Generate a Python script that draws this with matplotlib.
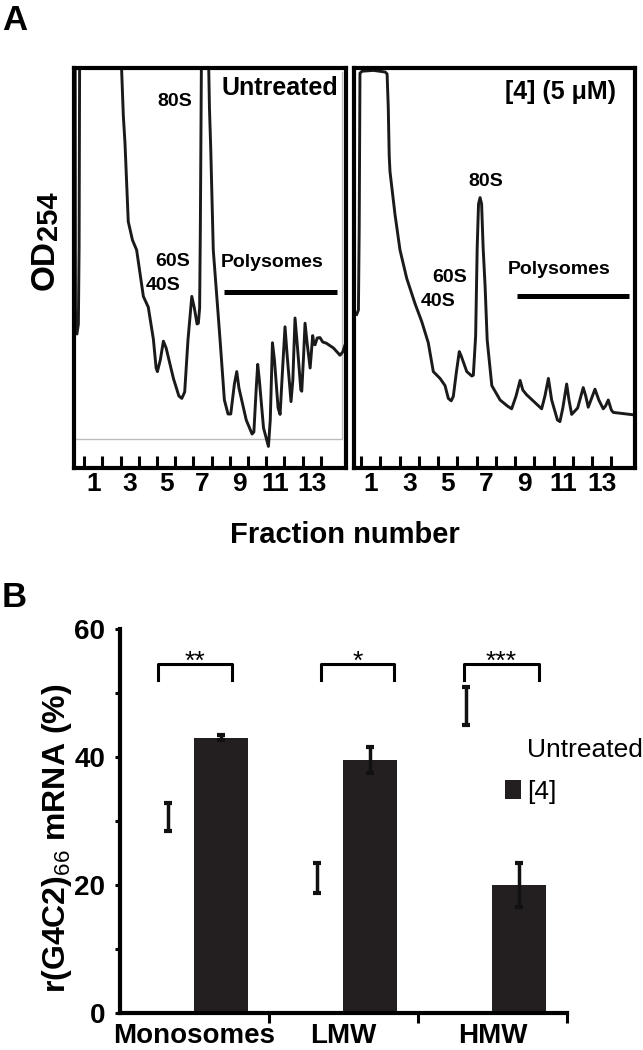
import numpy as np
import matplotlib
matplotlib.use("Agg")
import matplotlib.pyplot as plt
from matplotlib.patches import Patch

plt.rcParams['font.family'] = ['Liberation Sans', 'DejaVu Sans']
plt.rcParams['mathtext.fontset'] = 'custom'
plt.rcParams['mathtext.rm'] = 'Liberation Sans'
plt.rcParams['mathtext.bf'] = 'Liberation Sans:bold'

# --- panel A: OD254 profiles (fraction number, relative OD 0-100) ---
untreated_frac = [0.00, 0.02, 0.05, 0.10, 0.18, 0.22, 0.26, 2.52, 2.56, 2.65, 2.74, 2.92,
                  3.15, 3.38, 3.75, 4.02, 4.30, 4.45, 4.52, 4.68, 4.85, 5.00, 5.40, 5.70,
                  5.86, 6.02, 6.20, 6.41, 6.55, 6.70, 6.77, 6.84, 6.88, 6.95, 7.30, 7.38,
                  7.45, 7.59, 7.96, 8.20, 8.40, 8.55, 8.75, 8.88, 9.00, 9.40, 9.72, 9.82,
                  9.95, 10.03, 10.12, 10.35, 10.62, 10.72, 10.84, 10.95, 11.15, 11.26, 11.40,
                  11.53, 11.65, 11.86, 11.96, 12.08, 12.20, 12.40, 12.45, 12.55, 12.63, 12.75,
                  12.91, 12.98, 13.05, 13.12, 13.18, 13.30, 13.45, 13.60, 13.80, 14.19, 14.55,
                  14.70, 14.83]
untreated_od = [120, 40, 34, 33.5, 36, 55, 120, 120, 99, 88, 81.3, 61.6,
                57, 54.5, 42.9, 40.2, 32.2, 25, 24.1, 27, 31.7, 30, 22.4, 18,
                17.4, 19, 32, 42.9, 40, 36, 36.2, 40, 60, 110, 110, 90,
                80, 54.5, 32.2, 17, 13.5, 13.5, 21, 24.1, 20, 12, 8.5, 9,
                20, 25.9, 22, 10, 5.4, 12, 31.3, 27, 15, 13.4, 25,
                35.3, 28, 16.6, 22, 37.5, 31, 19.5, 19.2, 28, 36.2, 31,
                25, 29, 33.1, 31, 30.8, 32.5, 32.6, 31.5, 31.2, 30, 28.2,
                29, 30.8]

treated_frac = [0.27, 0.36, 0.40, 0.44, 0.55, 1.14, 1.75, 1.85, 1.91, 1.96, 2.00, 2.26,
                2.52, 2.87, 3.30, 3.65, 3.99, 4.25, 4.60, 4.86, 5.03, 5.18, 5.29, 5.45,
                5.60, 5.70, 5.99, 6.25, 6.33, 6.45, 6.53, 6.60, 6.68, 6.76, 6.84, 6.94,
                7.05, 7.29, 7.72, 8.10, 8.32, 8.55, 8.76, 8.90, 9.10, 9.88, 10.05, 10.23,
                10.40, 10.70, 10.83, 10.98, 11.18, 11.30, 11.44, 11.75, 12.04, 12.17, 12.30,
                12.48, 12.65, 12.85, 13.08, 13.20, 13.34, 13.50, 13.60, 14.12, 14.64]
treated_od = [38.4, 39.5, 60, 98.7, 99.2, 99.4, 99.0, 98.5, 90.2, 78, 74.1, 63.4,
              54.5, 47.4, 41.1, 36.6, 31.3, 24.1, 22.4, 20.6, 17.4, 16.8, 17.9, 24,
              29.1, 28, 24.1, 23, 23.2, 33, 55, 66, 67.6, 66, 55, 45.6,
              32, 20.6, 17, 15.5, 14.8, 18, 21.9, 19.5, 18.3, 14.8, 18, 22.4,
              17, 12, 11.6, 15, 21, 17, 13.4, 15, 20.1, 18, 15.2,
              17.5, 19.7, 17, 14.8, 15.5, 17, 14.5, 13.9, 13.6, 13.3]

label_fracs = [1, 3, 5, 7, 9, 11, 13]
tick_fracs = [i + 0.5 for i in range(14)]

# --- panel B: r(G4C2)66 mRNA distribution ---
categories = ['Monosomes', 'LMW', 'HMW']
untreated_pct = [30.6, 21.1, 48.0]
untreated_sd = [2.2, 2.4, 3.0]
treated_pct = [43.0, 39.5, 20.0]
treated_sd = [0.4, 2.0, 3.4]
sig_marks = ['**', '*', '***']
sig_left = [-0.246, -0.153, -0.19]
sig_right = [0.254, 0.34, 0.31]

W, H = 643, 1050
fig = plt.figure(figsize=(W / 100, H / 100), dpi=100)


def box(l, t, r, b):
    return [l / W, 1 - b / H, (r - l) / W, (b - t) / H]


def P(x, y):
    return (x / W, 1 - y / H)


def profile_axes(ax, frac, od, xlim):
    ax.plot(frac, od, color='#1a1a1a', lw=2.1, solid_joinstyle='round')
    ax.set_xlim(*xlim)
    ax.set_ylim(0, 100)
    ax.set_yticks([])
    ax.set_xticks(label_fracs)
    ax.set_xticklabels([str(f) for f in label_fracs], fontsize=19, fontweight='bold')
    ax.set_xticks(tick_fracs, minor=True)
    ax.tick_params(axis='x', which='major', length=0, pad=3)
    ax.tick_params(axis='x', which='minor', direction='in', length=8.6, width=2.2)
    for s in ax.spines.values():
        s.set_linewidth(3)


ax1 = fig.add_axes(box(74, 68, 346, 468))
ax1.plot([-0.06, 14.66, 14.66], [7.25, 7.25, 99], color='#bdbdbd', lw=1)
profile_axes(ax1, untreated_frac, untreated_od, (-0.06, 14.88))
ax1.plot([8.18, 14.39], [44, 44], color='k', lw=3.6, solid_capstyle='butt')
ax1.text(14.44, 94.9, 'Untreated', ha='right', va='center', fontsize=18, fontweight='bold')
ax1.text(5.49, 91.5, '80S', ha='center', va='center', fontsize=14, fontweight='bold')
ax1.text(5.38, 51.75, '60S', ha='center', va='center', fontsize=14, fontweight='bold')
ax1.text(4.83, 45.5, '40S', ha='center', va='center', fontsize=14, fontweight='bold')
ax1.text(10.82, 51.4, 'Polysomes', ha='center', va='center', fontsize=14, fontweight='bold')

ax2 = fig.add_axes(box(354, 68, 635, 468))
profile_axes(ax2, treated_frac, treated_od, (0.13, 14.73))
ax2.plot([8.58, 14.43], [42.9, 42.9], color='k', lw=3.6, solid_capstyle='butt')
ax2.text(13.74, 94, '[4] (5 μM)', ha='right', va='center', fontsize=18, fontweight='bold')
ax2.text(6.97, 71.5, '80S', ha='center', va='center', fontsize=14, fontweight='bold')
ax2.text(5.12, 47.5, '60S', ha='center', va='center', fontsize=14, fontweight='bold')
ax2.text(4.51, 41.5, '40S', ha='center', va='center', fontsize=14, fontweight='bold')
ax2.text(10.78, 49.5, 'Polysomes', ha='center', va='center', fontsize=14, fontweight='bold')

fig.text(*P(2, 30), 'A', fontsize=25, fontweight='bold', ha='left', va='baseline')
fig.text(*P(54, 290), 'OD', rotation=90, rotation_mode='anchor', ha='left', va='baseline',
         fontsize=24, fontweight='bold')
fig.text(*P(57, 240), '254', rotation=90, rotation_mode='anchor', ha='left', va='baseline',
         fontsize=21, fontweight='bold')
fig.text(*P(345, 543), 'Fraction number', ha='center', va='baseline', fontsize=21,
         fontweight='bold')

# --- panel B ---
ax3 = fig.add_axes(box(120, 629, 567, 1013))
x = np.arange(len(categories))
width = 0.357
err_kw = dict(ecolor='#111111', elinewidth=2.5, capsize=3, capthick=3)
ax3.bar(x - 0.178, untreated_pct, width, color='white', yerr=untreated_sd,
        error_kw=err_kw, label='Untreated')
ax3.bar(x + 0.178, treated_pct, width, color='#231f20', yerr=treated_sd,
        error_kw=err_kw, label='[4]')

for i, mark in enumerate(sig_marks):
    l, r = x[i] + sig_left[i], x[i] + sig_right[i]
    ax3.plot([l, l, r, r], [52.0, 54.5, 54.5, 52.0], color='k', lw=2.2)
    ax3.text((l + r) / 2, 53.7, mark, ha='center', va='baseline', fontsize=19)

ax3.set_xlim(-0.5, 2.5)
ax3.set_ylim(0, 60)
ax3.set_xticks(x)
ax3.set_xticklabels(categories, fontsize=20, fontweight='bold')
ax3.set_xticks([0.5, 1.5, 2.5], minor=True)
ax3.tick_params(axis='x', which='major', length=0, pad=7)
ax3.tick_params(axis='x', which='minor', direction='out', length=7, width=2.2)
ax3.set_yticks(range(0, 61, 10))
ax3.set_yticklabels(['0', '', '20', '', '40', '', '60'], fontsize=20, fontweight='bold')
ax3.tick_params(axis='y', length=3.6, width=2.2, pad=7)
ax3.spines['top'].set_visible(False)
ax3.spines['right'].set_visible(False)
ax3.spines['left'].set_linewidth(3)
ax3.spines['bottom'].set_linewidth(3)

handles = [Patch(facecolor='white', label='Untreated'),
           Patch(facecolor='#231f20', label='[4]')]
ax3.legend(handles=handles, loc='upper left', bbox_to_anchor=P(505, 738),
           bbox_transform=fig.transFigure, frameon=False, fontsize=19,
           handlelength=0.6, handleheight=0.7, handletextpad=0.25,
           labelspacing=0.68, borderpad=0, borderaxespad=0)

fig.text(*P(65, 838), r'r(G4C2)$_{\mathrm{66}}$ mRNA (%)', rotation=90,
         rotation_mode='anchor', ha='center', va='baseline', fontsize=23, fontweight='bold')
fig.text(*P(2, 607), 'B', fontsize=25, fontweight='bold', ha='left', va='baseline')

fig.savefig('out.png', dpi=100)
